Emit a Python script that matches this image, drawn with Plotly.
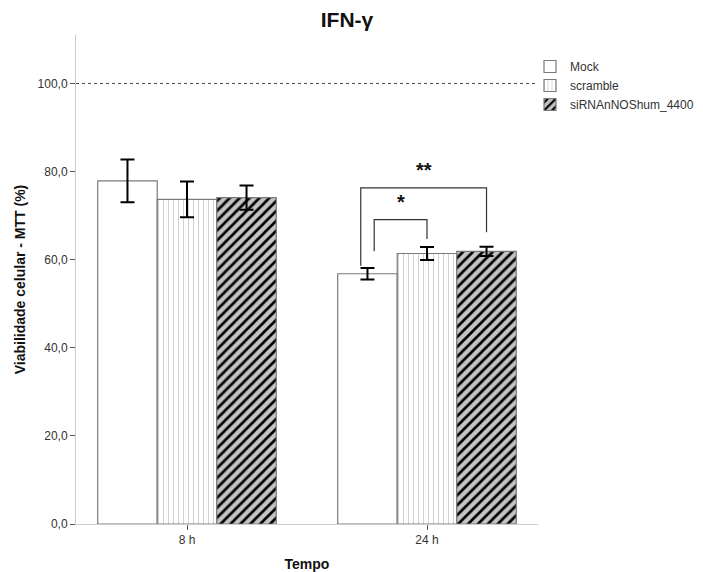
import plotly.graph_objects as go

categories = ["8 h", "24 h"]
series_names = ["Mock", "scramble", "siRNAnNOShum_4400"]
mock = [77.9, 56.8]
mock_err = [4.85, 1.3]
scramble = [73.7, 61.4]
scramble_err = [4.05, 1.45]
sirna = [74.1, 61.9]
sirna_err = [2.75, 1.05]
y_ticks = [0, 20, 40, 60, 80, 100]
y_tick_labels = ["0,0", "20,0", "40,0", "60,0", "80,0", "100,0"]
reference_line = 100
# significance brackets: (group index, bar a, bar b, top, left foot, right foot, label, left shift)
brackets = [
    (1, 0, 2, 76.3, 58.6, 66.2, "**", -0.028),
    (1, 0, 1, 69.1, 61.9, 64.7, "*", 0.028),
]

bar_w = 0.248
x_idx = list(range(len(categories)))
values = [mock, scramble, sirna]
errs = [mock_err, scramble_err, sirna_err]
offsets = [-bar_w, 0, bar_w]

styles = [
    dict(color="white", pattern=dict(shape="")),
    dict(color="white", pattern=dict(shape="|", bgcolor="white", fgcolor="#cccccc",
                                     fgopacity=1, size=5, solidity=0.18)),
    dict(color="#c4c4c4", pattern=dict(shape="/", bgcolor="#c4c4c4", fgcolor="#000000",
                                       fgopacity=1, size=7, solidity=0.38)),
]

fig = go.Figure()
for name, v, e, off, st in zip(series_names, values, errs, offsets, styles):
    fig.add_trace(go.Bar(
        x=[i + off for i in x_idx], y=v, width=bar_w, name=name,
        marker=dict(color=st["color"], pattern=st["pattern"],
                    line=dict(color="#7a7a7a", width=1.2)),
        error_y=dict(type="data", array=e, visible=True, color="black",
                     thickness=2, width=7),
    ))

shapes = [dict(type="line", xref="x", yref="y", x0=-0.4625, x1=1.4625,
               y0=reference_line, y1=reference_line,
               line=dict(color="#444444", width=1, dash="dot"))]
annotations = []
for g, a, b, top, fa, fb, lab, shift in brackets:
    xa = x_idx[g] + offsets[a] + shift
    xb = x_idx[g] + offsets[b]
    path = f"M {xa} {fa} L {xa} {top} L {xb} {top} L {xb} {fb}"
    shapes.append(dict(type="path", xref="x", yref="y", path=path,
                       line=dict(color="#333333", width=1.2)))
    annotations.append(dict(x=(xa + xb) / 2, y=top, xref="x", yref="y",
                            text=f"<b>{lab}</b>", showarrow=False, yanchor="bottom",
                            yshift=5, font=dict(size=20, color="#111111")))

W, H = 695, 564  # page body adds an 8px offset
fig.update_layout(
    width=W, height=H,
    margin=dict(l=68, r=165, t=27, b=48, autoexpand=False),
    paper_bgcolor="white", plot_bgcolor="white",
    barmode="overlay",
    font=dict(family="Liberation Sans, Arial, sans-serif", size=12, color="#333333"),
    title=dict(text="<b>IFN-γ</b>", x=339 / W, xanchor="center", y=1 - 4 / H, yanchor="top",
               font=dict(size=21, color="#111111")),
    xaxis=dict(range=[-0.4625, 1.4625], tickvals=x_idx, ticktext=categories,
               showgrid=False, zeroline=False, showline=True, linecolor="#cccccc",
               linewidth=1, ticks="outside", ticklen=5, tickcolor="#555555",
               tickfont=dict(size=12, color="#333333"), automargin=False,
               title=dict(text="<b>Tempo</b>", font=dict(size=14, color="#111111"), standoff=14)),
    yaxis=dict(range=[0, 111], tickvals=y_ticks, ticktext=y_tick_labels,
               showgrid=False, zeroline=False, showline=True, linecolor="#cccccc",
               linewidth=1, ticks="outside", ticklen=5, tickcolor="#555555",
               tickfont=dict(size=12, color="#333333"), automargin=False,
               title=dict(text="<b>Viabilidade celular - MTT (%)</b>",
                          font=dict(size=14, color="#111111"), standoff=8)),
    legend=dict(xref="container", yref="container", x=522 / W, y=1 - 44 / H,
                xanchor="left", yanchor="top",
                font=dict(size=12, color="#333333"), tracegroupgap=0,
                itemwidth=30, bgcolor="rgba(0,0,0,0)"),
    shapes=shapes, annotations=annotations,
)

fig.write_html("out.html")
